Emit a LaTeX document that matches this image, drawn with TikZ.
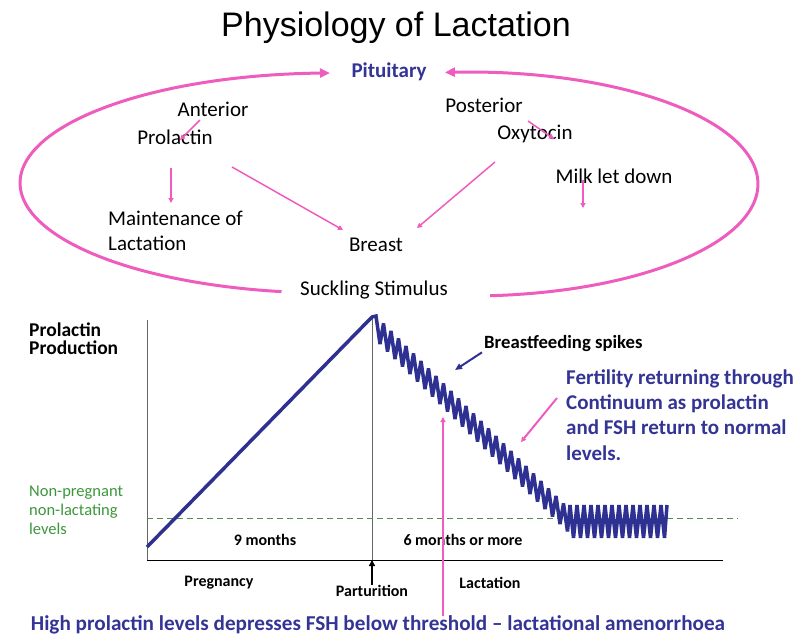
\documentclass[tikz,border=0pt]{standalone}
\usepackage{fontspec}
\setmainfont{Carlito}
\newfontfamily\titlefont{Liberation Sans}
\usetikzlibrary{arrows.meta, positioning}

\definecolor{loopink}{RGB}{238,92,190}
\definecolor{navytext}{RGB}{52,52,150}
\definecolor{spikeblue}{RGB}{46,49,146}
\definecolor{levelgreen}{RGB}{60,150,60}

\tikzset{
  txt/.style={inner sep=0pt, font=\fontsize{21}{25}\selectfont},
  small/.style={inner sep=0pt, font=\fontsize{16}{18}\selectfont\bfseries},
  bigloop/.style={loopink, line width=3pt, -{Triangle[length=10pt,width=9pt]}},
  pinkarrow/.style={loopink, line width=1.5pt, -{Triangle[length=5pt,width=5pt]}},
}

\begin{document}
\begin{tikzpicture}[x=1pt, y=-1pt, >=Stealth]
\useasboundingbox (0,0) rectangle (796,635);

% Title
\node[inner sep=0pt, font=\titlefont\fontsize{34}{36}\selectfont] (title) at (396,28) {Physiology of Lactation};

% Loop part
\node[inner sep=0pt, font=\fontsize{21}{23}\selectfont\bfseries, navytext] (pit) at (389,72) {Pituitary};
\node[txt] (ant) at (213,109) {Anterior};
\node[txt] (pro) at (175,137) {Prolactin};
\node[txt, anchor=west, align=left] (main) at (108,230.5) {Maintenance of\\Lactation};
\node[txt] (breast) at (376,245) {Breast};
\node[txt] (post) at (484,105) {Posterior};
\node[txt] (oxy) at (535,134) {Oxytocin};
\node[txt] (milk) at (614,176) {Milk let down};
\node[txt] (suck) at (374,290) {Suckling Stimulus};

% arrow ends
\coordinate (antout) at (200,120);
\coordinate (antin) at (180,140);
\coordinate (proout) at (171,168);
\coordinate (mainin) at (171,203);
\coordinate (prooutb) at (232,167);
\coordinate (breastl) at (343,230);
\coordinate (postout) at (528,121);
\coordinate (oxyin) at (554,139);
\coordinate (oxyout) at (495,162);
\coordinate (breastr) at (417,228);
\coordinate (milkout) at (583,180);
\coordinate (milkin) at (583,208);
\draw[pinkarrow] (antout) -- (antin);
\draw[pinkarrow] (proout) -- (mainin);
\draw[pinkarrow] (prooutb) -- (breastl);
\draw[pinkarrow] (postout) -- (oxyin);
\draw[pinkarrow] (oxyout) -- (breastr);
\draw[pinkarrow] (milkout) -- (milkin);

% big loop
\draw[bigloop] plot[domain=99:270, samples=80] ({330+310*cos(\x)}, {183+110*sin(\x)});
\draw[bigloop] plot[domain=86:-95, samples=80] ({470+288*cos(\x)}, {184+112*sin(\x)});

% Graph
\coordinate (O) at (147,560);
\coordinate (ytop) at (147,320);
\coordinate (xend) at (723,560);
\coordinate (part) at (372,560);
\coordinate (parttop) at (372,318);
\draw[gray!80!black, line width=1pt] (ytop) -- (O);
\draw[gray!80!black, line width=1pt] (parttop) -- (part);
\draw[black, line width=1pt] (O) -- (xend);
\draw[levelgreen!70!gray, line width=0.8pt, dash pattern=on 6pt off 4pt] (147,518) coordinate (lvl) -- (738,518) coordinate (lvlend);

\node[inner sep=0pt, anchor=west, align=left, font=\fontsize{19.5}{18}\selectfont\bfseries] (ylab) at (29,339) {Prolactin\\Production};
\node[inner sep=0pt, anchor=west, align=left, levelgreen, font=\fontsize{16.5}{19}\selectfont] (green) at (29,510) {Non-pregnant\\non-lactating\\levels};

% prolactin curve
\draw[spikeblue, line width=3.5pt, line join=miter, miter limit=2.5] (147,547) -- (372,317)
  \foreach \i in {0,...,25}{ -- ({376+7.5*\i},{316+7.5*\i}) -- ({380+7.5*\i},{344+7.5*\i}) }
  \foreach \j in {0,...,13}{ -- ({570+7*\j},505) -- ({573.5+7*\j},538) }
  -- (667,505);

\node[small] (nine) at (265,540) {9 months};
\node[small] (six) at (463,540) {6 months or more};
\node[small] (preg) at (219,583) {Pregnancy};
\node[small] (partl) at (372,591) {Parturition};
\node[small] (lact) at (490,583) {Lactation};
\draw[black, line width=2pt, -{Triangle[length=6pt,width=6pt]}] (partl.north) -- (part);

\node[inner sep=0pt, anchor=west, font=\fontsize{18.7}{20}\selectfont\bfseries] (bf) at (484,344) {Breastfeeding spikes};
\coordinate (bfend) at (455,370);
\draw[spikeblue, line width=2pt, -{Triangle[length=7pt,width=6pt]}] (bf.south west) ++(-2,0) -- (bfend);

\node[inner sep=0pt, anchor=west, align=left, navytext, font=\fontsize{21}{25.3}\selectfont\bfseries] (fert) at (566,415) {Fertility returning through\\Continuum as prolactin\\and FSH return to normal\\levels.};
\coordinate (fertout) at (557,398);
\coordinate (fertend) at (521,442);
\draw[pinkarrow, line width=2pt] (fertout) -- (fertend);

\node[inner sep=0pt, navytext, font=\fontsize{21.2}{23}\selectfont\bfseries] (high) at (378,625) {High prolactin levels depresses FSH below threshold -- lactational amenorrhoea};
\coordinate (highend) at (443,417);
\draw[pinkarrow, line width=2pt] (high.north -| highend) -- (highend);
\end{tikzpicture}
\end{document}
